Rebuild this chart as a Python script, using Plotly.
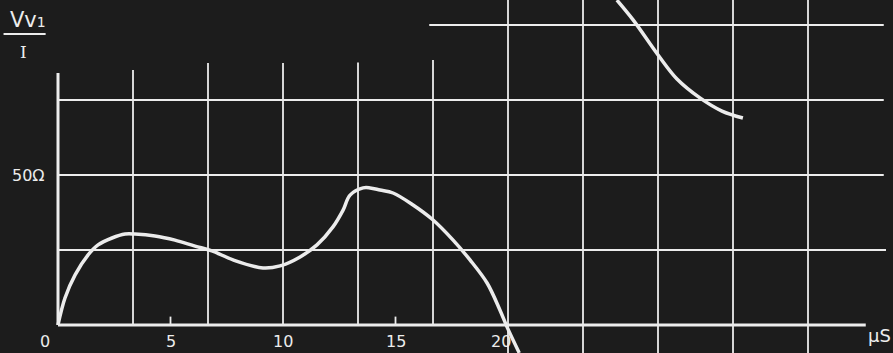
import numpy as np
import plotly.graph_objects as go

# Impedance V_v1 / I (ohms) versus time (microseconds)
time_us = [0.0, 0.31, 0.76, 1.33, 1.78, 2.4, 2.98, 3.42, 4.31, 5.2, 6.09, 6.84,
           7.78, 9.11, 9.87, 10.76, 11.51, 12.22, 12.67, 12.98, 13.56, 13.87,
           14.31, 14.89, 15.78, 16.67, 17.56, 18.31, 19.07, 19.64, 19.96, 20.5]
impedance_ohm = [0.0, 9.0, 16.7, 23.3, 26.7, 29.0, 30.3, 30.3, 29.7, 28.3, 26.3, 24.7,
                 21.7, 19.0, 19.7, 22.7, 26.7, 32.7, 38.3, 43.3, 45.7, 45.7,
                 45.0, 44.0, 40.0, 35.0, 28.3, 21.7, 14.0, 5.0, -0.7, -9.3]

# Later branch of the curve (upper right)
time_late_us = [24.84, 25.56, 26.67, 27.51, 28.53, 29.51, 30.44]
impedance_late_ohm = [108.3, 101.7, 90.0, 82.0, 75.7, 71.3, 69.0]

# Grid layout
x_grid = [10 / 3 * k for k in range(1, 11)]          # every 3 1/3 us
y_grid = [25, 50, 75, 100]
x_tick_vals = [0, 5, 10, 15, 20]
x_tick_text = ["0", "5", "10", "15", "20"]

X_MIN, X_MAX = -58 / 22.5, (893 - 58) / 22.5
Y_MIN, Y_MAX = -28 / 3, 325 / 3

INK = "#ececec"
BG = "#1c1c1c"

fig = go.Figure()

line_style = dict(color=INK, width=3.5, shape="spline", smoothing=1.0)
fig.add_trace(go.Scatter(x=time_us, y=impedance_ohm, mode="lines",
                         line=line_style, hoverinfo="skip", showlegend=False))
fig.add_trace(go.Scatter(x=time_late_us, y=impedance_late_ohm, mode="lines",
                         line=line_style, hoverinfo="skip", showlegend=False))

shapes = []

def seg(x0, y0, x1, y1, w=2.0):
    shapes.append(dict(type="line", x0=x0, y0=y0, x1=x1, y1=y1, xref="x", yref="y",
                       line=dict(color=INK, width=w), layer="below"))

# horizontal rulings
h_extent = {25: (0, 36.8), 50: (0, 36.7), 75: (0, 36.7), 100: (16.5, 36.7)}
for yv in y_grid:
    a, b = h_extent[yv]
    seg(a, yv, b, yv, 2.2)

# vertical rulings: short ones on the left, full-height ones to the right
v_top = [85.0, 87.3, 87.3, 87.5, 88.3]
for i, xv in enumerate(x_grid):
    if i < len(v_top):
        seg(xv, 0, xv, v_top[i], 1.8)
    else:
        seg(xv, Y_MIN, xv, Y_MAX, 1.8)

# axes
seg(0, 0, 35.9, 0, 3.0)
seg(0, 0, 0, 84.0, 3.0)

# small ticks at 5 and 15
for xv in (5, 15):
    seg(xv, 0, xv, 2.8, 1.8)

# fraction bar of the y label
seg(-2.42, 97.0, -0.55, 97.0, 2.2)

fig.update_layout(shapes=shapes)

FAMILY = "DejaVu Sans, Arial, sans-serif"
font = dict(family=FAMILY, size=16, color=INK)
annotations = []
tick_dx = {0: -0.6, 5: 0, 10: 0, 15: 0, 20: -0.3}
for v, t in zip(x_tick_vals, x_tick_text):
    annotations.append(dict(x=v + tick_dx[v], y=-5.4, text=t, showarrow=False,
                            xref="x", yref="y", font=font))
annotations.append(dict(x=35.9, y=-3.6, text="\u03bcS", showarrow=False,
                        xref="x", yref="y", xanchor="left",
                        font=dict(family=FAMILY, size=18, color=INK)))
annotations.append(dict(x=-1.32, y=50, text="50\u03a9", showarrow=False,
                        xref="x", yref="y", font=font))
annotations.append(dict(x=-1.33, y=101.6,
                        text="Vv<span style='font-size:14px'>1</span>",
                        showarrow=False, xref="x", yref="y",
                        font=dict(family=FAMILY, size=21, color=INK)))
annotations.append(dict(x=-1.55, y=91.0, text="I", showarrow=False,
                        xref="x", yref="y",
                        font=dict(family="DejaVu Serif, serif", size=17, color=INK)))
fig.update_layout(annotations=annotations)

fig.update_layout(
    width=893, height=353,
    margin=dict(l=0, r=0, t=0, b=0),
    paper_bgcolor=BG, plot_bgcolor=BG,
    xaxis=dict(range=[X_MIN, X_MAX], visible=False, showgrid=False, zeroline=False),
    yaxis=dict(range=[Y_MIN, Y_MAX], visible=False, showgrid=False, zeroline=False),
    showlegend=False,
)

fig.write_html("out.html")
